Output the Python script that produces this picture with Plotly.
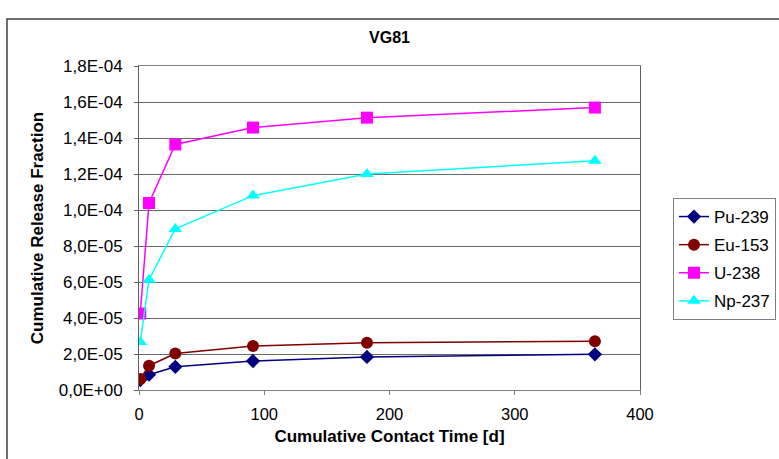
import plotly.graph_objects as go

# Data
days = [1, 8, 29, 91, 182, 364]
pu_239 = [0.55e-5, 0.85e-5, 1.29e-5, 1.61e-5, 1.84e-5, 1.98e-5]
eu_153 = [0.61e-5, 1.35e-5, 2.03e-5, 2.44e-5, 2.62e-5, 2.71e-5]
u_238 = [4.25e-5, 10.39e-5, 13.64e-5, 14.58e-5, 15.13e-5, 15.69e-5]
np_237 = [2.67e-5, 6.13e-5, 8.95e-5, 10.8e-5, 12.0e-5, 12.74e-5]

y_tickvals = [0, 2e-5, 4e-5, 6e-5, 8e-5, 10e-5, 12e-5, 14e-5, 16e-5, 18e-5]
y_ticktext = ["0,0E+00", "2,0E-05", "4,0E-05", "6,0E-05", "8,0E-05",
              "1,0E-04", "1,2E-04", "1,4E-04", "1,6E-04", "1,8E-04"]
x_tickvals = [0, 100, 200, 300, 400]

series = [
    ("Pu-239", pu_239, "#000080", "diamond", 11),
    ("Eu-153", eu_153, "#800000", "circle", 12),
    ("U-238", u_238, "#FF00FF", "square", 12),
    ("Np-237", np_237, "#00FFFF", "triangle-up", 12),
]

FONT = "Liberation Sans, Arial, sans-serif"

fig = go.Figure()
for name, vals, color, sym, size in series:
    fig.add_trace(go.Scatter(
        x=days, y=vals, name=name, mode="lines+markers",
        legendgroup=name,
        line=dict(color=color, width=1.5),
        marker=dict(symbol=sym, size=size, color=color, line=dict(width=0)),
    ))

W, H = 779, 459
L, R, T, B = 139, 139, 66, 69
pw, ph = W - L - R, H - T - B

def px2paper_x(px):
    return (px - L) / pw

def px2paper_y(py):
    return (H - B - py) / ph

fig.update_layout(
    width=W, height=H,
    margin=dict(l=L, r=R, t=T, b=B, autoexpand=False),
    paper_bgcolor="white", plot_bgcolor="white",
    font=dict(family=FONT, size=16, color="black"),
    title=dict(text="<b>VG81</b>", x=0.5, xanchor="center", y=1 - 37 / H, yanchor="middle",
               font=dict(size=16, family=FONT)),
    showlegend=True,
    legend=dict(
        x=px2paper_x(673), xanchor="left", y=px2paper_y(198), yanchor="top",
        bordercolor="#808080", borderwidth=1, bgcolor="white",
        font=dict(size=17, family=FONT), tracegroupgap=3,
        itemwidth=30,
    ),
    xaxis=dict(
        range=[0, 400], tickvals=x_tickvals, showgrid=False,
        showline=True, linecolor="#808080", linewidth=1, mirror=True,
        ticks="outside", ticklen=4, tickcolor="#808080",
        zeroline=False, tickfont=dict(size=16.5), ticklabelstandoff=5,
        automargin=False,
        title=dict(text="<b>Cumulative Contact Time [d]</b>", font=dict(size=17), standoff=8),
    ),
    yaxis=dict(
        range=[0, 1.8e-4], tickvals=y_tickvals, ticktext=y_ticktext,
        showgrid=True, gridcolor="#6a6a6a", gridwidth=1,
        showline=True, linecolor="#606060", linewidth=1, mirror=True,
        ticks="outside", ticklen=4, tickcolor="#606060",
        zeroline=False, tickfont=dict(size=17), ticklabelstandoff=8,
        automargin=False,
        title=dict(text="<b>Cumulative Release Fraction</b>", font=dict(size=17), standoff=10),
    ),
)

# Outer chart frame (extends past the right and bottom edges, as in the reference)
fig.add_shape(type="rect", xref="paper", yref="paper",
              x0=px2paper_x(7), x1=px2paper_x(800), y0=px2paper_y(480), y1=px2paper_y(19),
              line=dict(color="#404040", width=1.5), fillcolor="rgba(0,0,0,0)", layer="below")

fig.write_html("out.html", config={"displayModeBar": False},
               post_script="document.body.style.margin='0';")
